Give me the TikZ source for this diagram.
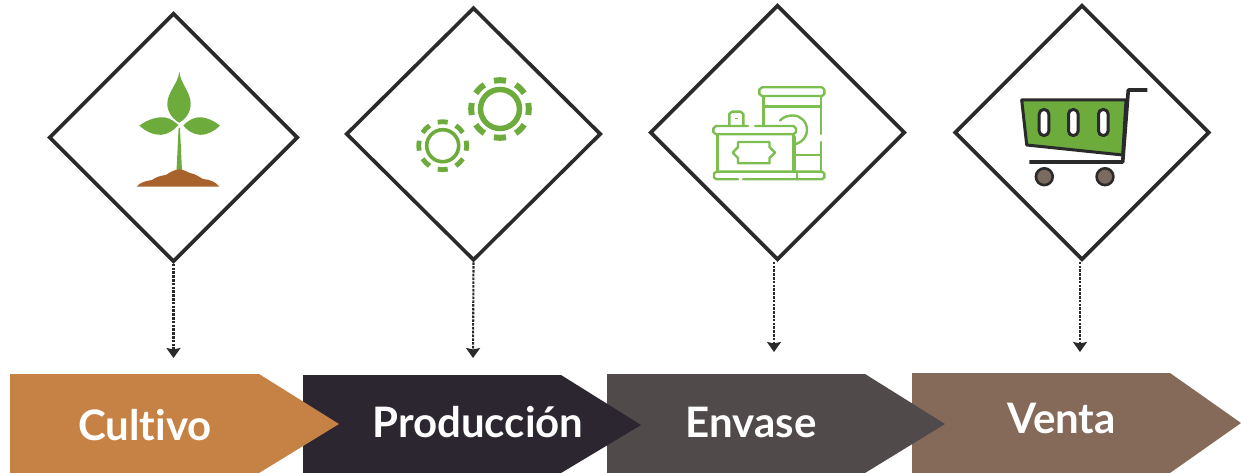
\documentclass[tikz,border=0pt]{standalone}
\usepackage{fontspec}
\setmainfont{Lato}[Ligatures=NoCommon]
\usetikzlibrary{shapes.geometric,arrows.meta}
\definecolor{leafgreen}{HTML}{6CAB3C}
\definecolor{cangreen}{HTML}{7CBF50}
\definecolor{soil}{HTML}{A8622B}
\definecolor{ink}{HTML}{2A2A2A}
\definecolor{cultivoc}{HTML}{C68144}
\definecolor{produccionc}{HTML}{2B2630}
\definecolor{envasec}{HTML}{504A4B}
\definecolor{ventac}{HTML}{856959}
\definecolor{wheelc}{HTML}{7B6A60}
\tikzset{
  rombo/.style={shape=diamond,draw=ink,fill=white,line width=3.6pt,inner sep=0pt,aspect=1,minimum width=249pt,minimum height=249pt,miter limit=10},
  flecha/.style={draw=ink,line width=2.1pt,dash pattern=on 2.6pt off 1.2pt,-{Stealth[length=10pt,width=14pt,inset=1.5pt,sep=0pt]}},
  etiqueta/.style={text=white,font=\fontsize{42}{42}\selectfont\bfseries,anchor=base,inner sep=0pt},
  canline/.style={draw=cangreen,line width=2.4pt,fill=none,line join=round,line cap=round},
  cartline/.style={draw=ink,line width=3pt,line join=round},
}
\newcommand{\gearicon}[6]{% cx cy ringr ringw toothr toothw
  \draw[leafgreen,line width=#4pt] (#1,#2) circle[radius=#3];
  \foreach \a in {0,45,...,315}
    \draw[leafgreen,line width=#6pt] ([shift={(\a-12:#5)}]#1,#2) arc[start angle=\a-12,end angle=\a+12,radius=#5];
}
\begin{document}
\begin{tikzpicture}[x=1pt,y=-1pt]
\useasboundingbox (0,0) rectangle (1241,473);
\fill[white] (0,0) rectangle (1241,473);
% diamonds
\node[rombo] (d1) at (173.5,137.5) {};
\node[rombo,minimum width=255pt,minimum height=253pt] (d2) at (473.5,134) {};
\node[rombo,minimum width=255pt,minimum height=255pt] (d3) at (777.5,132.5) {};
\node[rombo,minimum width=255pt,minimum height=255pt] (d4) at (1082,132.5) {};
% arrow ends
\coordinate (e1) at (173.5,358);
\coordinate (e2) at (473,358);
\coordinate (e3) at (774,352);
\coordinate (e4) at (1080,352);
\draw[flecha] (d1.south) -- (e1);
\draw[flecha] (d2.south) -- (e2);
\draw[flecha] (d3.south -| e3) -- (e3);
\draw[flecha] (d4.south -| e4) -- (e4);
% pentagons, last first so each tip overlaps the next
\fill[ventac] (912,373) -- (1170,373) -- (1241,423) -- (1170,473) -- (912,473) -- cycle;
\fill[envasec] (607,374) -- (865,374) -- (945,424) -- (865,473) -- (607,473) -- cycle;
\fill[produccionc] (303,375) -- (561,375) -- (641,425) -- (561,473) -- (303,473) -- cycle;
\fill[cultivoc] (10,374) -- (259,374) -- (339,424) -- (259,473) -- (10,473) -- cycle;
\node[etiqueta] (t1) at (145,440) {Cultivo};
\node[etiqueta] (t2) at (478,437) {Producción};
\node[etiqueta] (t3) at (751,437) {Envase};
\node[etiqueta] (t4) at (1061.5,433) {Venta};
% plant
\fill[leafgreen] (179.3,71.7) .. controls (178,84) and (167.3,92) .. (167.3,104) .. controls (167.3,113) and (174,120) .. (179.3,122.7) .. controls (184.6,120) and (190.7,113) .. (190.7,104) .. controls (190.7,92) and (180.6,84) .. (179.3,71.7) -- cycle;
\fill[leafgreen] (139.3,125.7) .. controls (148,119) and (158,116.5) .. (165,117.5) .. controls (171,118.5) and (175,122) .. (178.3,125) .. controls (174,130) and (169,134) .. (161,134.8) .. controls (152,135) and (145,130.5) .. (139.3,125.7) -- cycle;
\fill[leafgreen] (220,125.7) .. controls (212,119) and (203,116.5) .. (197,117.5) .. controls (191,118.5) and (186.5,122) .. (183.3,125.7) .. controls (187,130) and (192,134) .. (200,134.8) .. controls (208,135) and (215,130.5) .. (220,125.7) -- cycle;
\fill[leafgreen] (178.6,128) -- (180,128) -- (182,171) -- (176.5,171) -- cycle;
\fill[soil] (136.7,186.7) .. controls (140,182) and (146,181) .. (152,180) .. controls (156,177) and (161,175.5) .. (166,175) .. controls (170,172) and (175,169.5) .. (179.3,169.3) .. controls (184,169.5) and (187,172) .. (190,173) .. controls (196,174) and (199,177) .. (203,179) .. controls (210,179.5) and (216,182) .. (219.3,186.7) -- cycle;
% gears
\gearicon{500}{109}{19.5}{5.5}{28.8}{6}
\gearicon{442.7}{145.7}{16}{3.6}{24}{4.8}
% cans
\draw[canline] (762,87.3) -- (822,87.3) -- (824.3,89.5) -- (824.3,94) -- (822,96) -- (762,96) -- (759.3,94) -- (759.3,89.5) -- cycle;
\draw[canline] (763.3,96) -- (763.3,126);
\draw[canline] (821,96) -- (821,134);
\draw[canline] (821,142) -- (821,172);
\draw[canline] (763.3,106.7) -- (821,106.7);
\draw[canline] (780,120.5) .. controls (784,116) and (790,115.5) .. (793,115.5) .. controls (801,115.5) and (807,122) .. (807,130) .. controls (807,136) and (803,142) .. (796,144);
\draw[canline] (795,155) -- (821,155);
\draw[canline] (795,137) -- (795,172);
\draw[canline] (738,179.3) -- (716.5,179.3) -- (714,177.5) -- (714,173.5) -- (716.5,171.7) -- (822,171.7) -- (824.3,173.5) -- (824.3,177.5) -- (822,179.3) -- (743,179.3);
\draw[canline] (796.7,171.7) -- (796.7,179.3);
\draw[canline] (748,126) -- (716,126) -- (713.3,128.5) -- (713.3,132) -- (716,134.3) -- (793.5,134.3) -- (796,132) -- (796,128.5) -- (793.5,126) -- (755,126);
\draw[canline] (717.3,134.3) -- (717.3,171.7);
\draw[canline] (793.3,134.3) -- (793.3,171.7);
\draw[canline] (732.7,152.7) -- (738,147) -- (738,142) -- (769.5,142) -- (769.5,147) -- (775,152.7) -- (769.5,158) -- (769.5,163.3) -- (738,163.3) -- (738,158) -- cycle;
\draw[canline] (729.3,126) -- (729.3,114) -- (732,111.7) -- (740.5,111.7) -- (743.3,114) -- (743.3,126);
\draw[cangreen,line width=1.5pt] (735,118.5) -- (738,118.5);
% cart
\draw[cartline,fill=leafgreen] (1021.7,100) -- (1126,100) -- (1122.7,155) -- (1026.7,145) -- cycle;
\draw[cartline,line width=3.6pt] (1029.3,162) -- (1122.7,162) -- (1128.3,90) -- (1147.3,90);
\foreach \x in {1044,1073.3,1103.3}
  \draw[cartline,fill=white,rounded corners=4.5pt] (\x-4.8,109.5) rectangle (\x+4.8,135.5);
\foreach \x in {1044.3,1105}
  \draw[draw=ink,line width=2.6pt,fill=wheelc] (\x,176.7) circle[radius=8.4];
\end{tikzpicture}
\end{document}
